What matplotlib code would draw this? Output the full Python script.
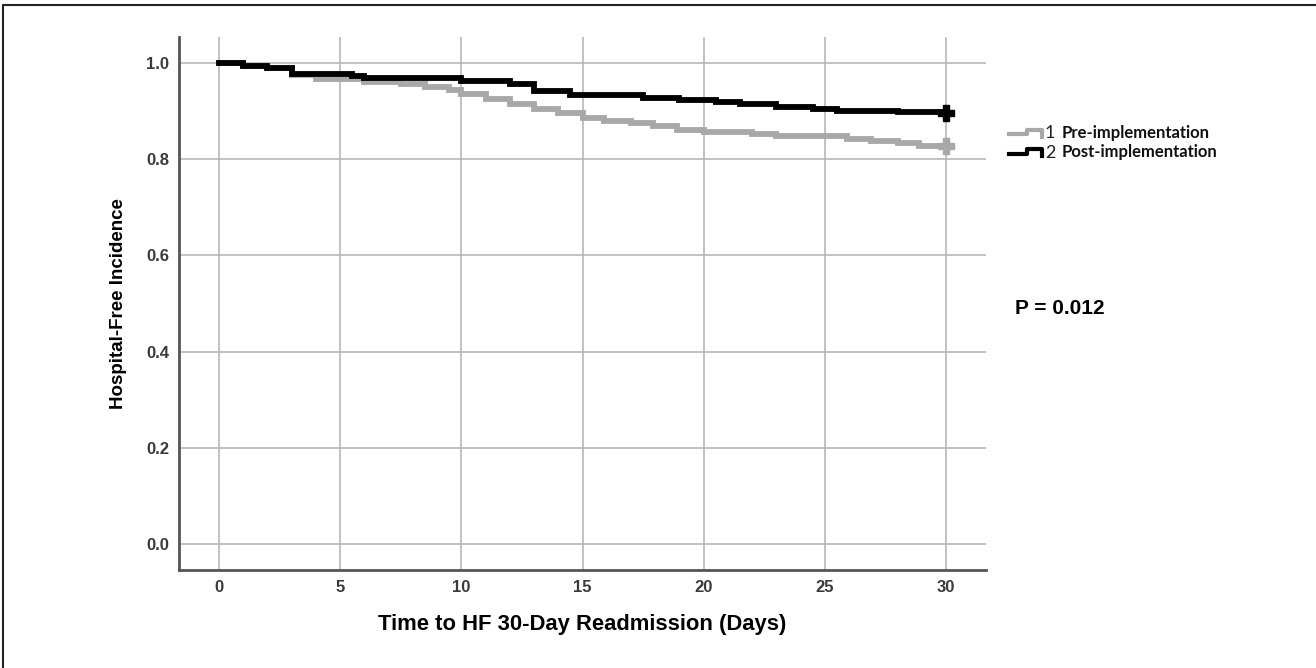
import matplotlib
matplotlib.use("Agg")
import matplotlib.pyplot as plt
from matplotlib.lines import Line2D

# Kaplan-Meier style step data
t_pre = [0, 1, 2, 3, 4, 6, 7.5, 8.5, 9.5, 10, 11, 12, 13, 14, 15, 15.9, 17, 17.9,
         18.9, 20, 22, 23, 25.9, 26.9, 28, 28.9, 30]
s_pre = [1.0, 0.994, 0.99, 0.976, 0.967, 0.961, 0.956, 0.95, 0.943, 0.935, 0.925,
         0.915, 0.905, 0.895, 0.886, 0.879, 0.876, 0.869, 0.86, 0.857, 0.852, 0.848,
         0.843, 0.837, 0.833, 0.827, 0.827]

t_post = [0, 1, 2, 3, 5.5, 6, 10, 12, 13, 14.5, 17.5, 19, 20.5, 21.5, 23, 24.5, 25.5, 28, 30]
s_post = [1.0, 0.994, 0.99, 0.977, 0.972, 0.968, 0.962, 0.957, 0.941, 0.934, 0.928,
          0.923, 0.918, 0.914, 0.909, 0.905, 0.901, 0.898, 0.896]

group_labels = ["Pre-implementation", "Post-implementation"]
group_codes = ["1", "2"]
x_ticks = [0, 5, 10, 15, 20, 25, 30]
y_ticks = [0.0, 0.2, 0.4, 0.6, 0.8, 1.0]
p_text = "P = 0.012"

W, H = 1316, 668
GRAY = "#a8a8a8"


def px(x, y):
    # pixel position (from top-left) -> figure fraction
    return x / W, 1 - y / H


fig = plt.figure(figsize=(W / 100, H / 100), dpi=100)
ax = fig.add_axes([179 / W, 1 - 570 / H, (986 - 179) / W, (570 - 37) / H])

ax.step(t_pre, s_pre, where="post", color=GRAY, lw=4.2, solid_joinstyle="miter")
ax.step(t_post, s_post, where="post", color="black", lw=4.2, solid_joinstyle="miter")
ax.plot(t_pre[-1], s_pre[-1], marker="P", ms=11, color=GRAY, mec=GRAY)
ax.plot(t_post[-1], s_post[-1], marker="P", ms=11, color="black")

ax.set_xlim(-1.65, 31.65)
ax.set_ylim(-0.054, 1.054)
ax.set_xticks(x_ticks)
ax.set_yticks(y_ticks)
ax.set_yticklabels(["%.1f" % v for v in y_ticks])
ax.grid(True, color="#b8b8b8", lw=1.2)
ax.set_axisbelow(True)
ax.tick_params(length=0, pad=7, labelsize=12, labelcolor="#3a3a3a")
for lab in ax.get_xticklabels() + ax.get_yticklabels():
    lab.set_fontweight("bold")
    lab.set_family("Liberation Sans")
for s in ["top", "right"]:
    ax.spines[s].set_visible(False)
for s in ["left", "bottom"]:
    ax.spines[s].set_color("#555555")
    ax.spines[s].set_linewidth(2)

ax.set_xlabel("Time to HF 30-Day Readmission (Days)", fontsize=15.8, fontweight="bold",
              family="Liberation Sans", labelpad=14)
ax.set_ylabel("Hospital-Free Incidence", fontsize=13.5, fontweight="bold",
              family="Liberation Sans", labelpad=14)

# legend with step-shaped handles
rows = [(GRAY, 134, 130, 137), ("black", 154, 149, 156)]
for i, (c, y0, y1, y2) in enumerate(rows):
    xs = [1009, 1027, 1027, 1042, 1042]
    ys = [y0, y0, y1, y1, y2]
    pts = [px(a, b) for a, b in zip(xs, ys)]
    fig.add_artist(Line2D([p[0] for p in pts], [p[1] for p in pts], color=c, lw=3,
                          transform=fig.transFigure))
    fx, fy = px(1045, (y0 + y1) / 2 + 1)
    fig.text(fx, fy, group_codes[i], fontsize=13, color="#222222", family="Lato",
             va="center", ha="left")
    fx, fy = px(1062, (y0 + y1) / 2 + 1)
    fig.text(fx, fy, group_labels[i], fontsize=12, fontweight="bold", color="#111111",
             family="Lato", va="center", ha="left")

fx, fy = px(1015, 308)
fig.text(fx, fy, p_text, fontsize=15, fontweight="bold", family="Liberation Sans",
         va="center", ha="left")

# outer frame (top and left edges)
fx0, fy0 = px(3, H)
fx1, fy1 = px(3, 5)
fx2, fy2 = px(W, 5)
fig.add_artist(Line2D([fx0, fx1, fx2], [fy0, fy1, fy2], color="#222222", lw=1.5,
                      transform=fig.transFigure))

fig.savefig("out.png", dpi=100)
